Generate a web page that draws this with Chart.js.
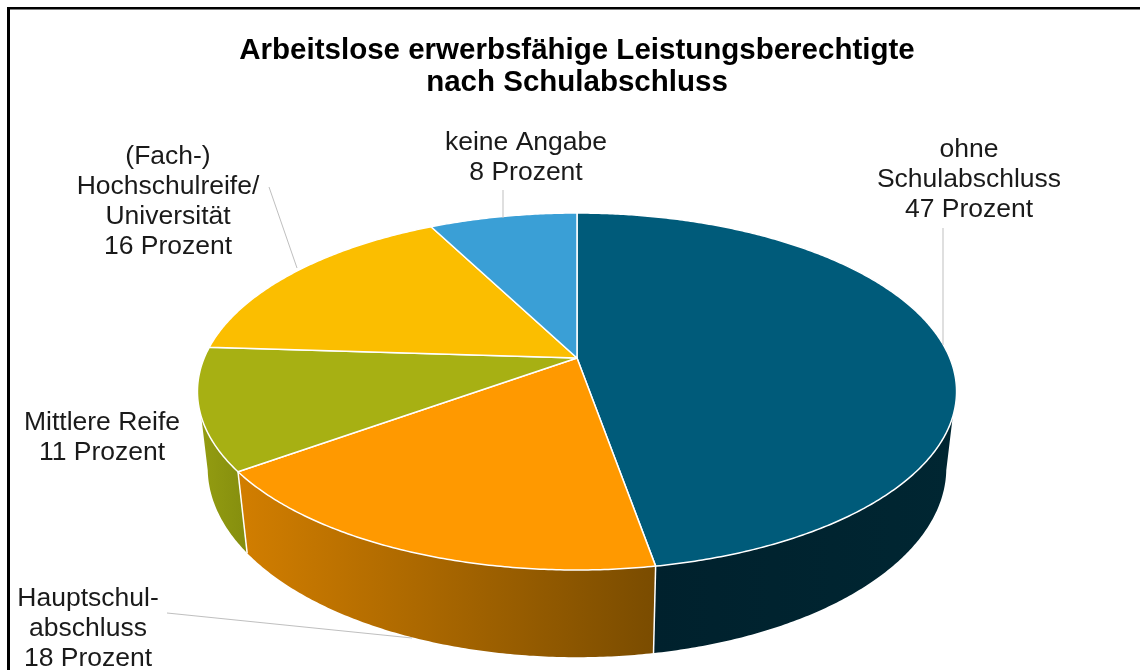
<!DOCTYPE html>
<html lang="de">
<head>
<meta charset="utf-8">
<style>html,body{margin:0;padding:0;background:#fff}canvas{display:block}</style>
<script src="https://cdn.jsdelivr.net/npm/chart.js@4"></script>
</head>
<body>
<canvas id="c" width="1140" height="670"></canvas>
<script>
const categories = ["ohne Schulabschluss", "Hauptschulabschluss", "Mittlere Reife", "(Fach-) Hochschulreife/ Universität", "keine Angabe"];
const values = [47.25, 17.75, 11, 16.45, 7.55];
const labelLines = [
  ["ohne", "Schulabschluss", "47 Prozent"],
  ["Hauptschul-", "abschluss", "18 Prozent"],
  ["Mittlere Reife", "11 Prozent"],
  ["(Fach-)", "Hochschulreife/", "Universität", "16 Prozent"],
  ["keine Angabe", "8 Prozent"]
];
const titleLines = ["Arbeitslose erwerbsfähige Leistungsberechtigte", "nach Schulabschluss"];
const topColors = ["#005B7A", "#FF9900", "#A7B013", "#FBBE00", "#3A9FD6"];
const sideStops = [["#00212D", "#002632"], ["#D27E00", "#7A4C00"], ["#939C11", "#858E0E"], ["#C09200", "#C09200"], ["#2A78A2", "#2A78A2"]];
const labelPos = [[969, 150], [88, 599], [102, 423], [168, 157], [526, 143]];
const leaders = [[[943, 228], [943, 345]], [[167, 613], [412, 638]], null, [[269, 187], [297, 268]], [[503, 190], [503, 218]]];

const P = {cx: 577, cy: 358, a: 372.8, b: 172.2, k: 0.1877, sx: 0.973, sy: 1.06, ty: 53, from: 108.7, to: 251.3, lowFrom: 101.5, lowTo: 258.5};
function rim(deg) {
  const t = deg * Math.PI / 180, u = Math.sin(t), v = -Math.cos(t), w = 1 - P.k * v;
  return [P.cx + P.a * u / w, P.cy + P.b * v / w];
}
function low(p) { return [P.cx + P.sx * (p[0] - P.cx), P.sy * p[1] + P.ty]; }
function sweep(s, e) {
  const out = [];
  if (e <= s) return out;
  for (let d = s; d < e; d += 0.5) out.push(rim(d));
  out.push(rim(e));
  return out;
}

const pie3d = {
  id: 'pie3d',
  beforeDraw(chart) {
    const c = chart.ctx;
    c.save();
    c.fillStyle = '#fff'; c.fillRect(0, 0, 1140, 670);
    c.fillStyle = '#000';
    c.fillRect(7, 7, 3, 663);
    c.fillRect(7, 7, 1133, 2.5);
    c.restore();
  },
  beforeDatasetDraw() { return false; },
  afterDatasetsDraw(chart) {
    const c = chart.ctx, arcs = chart.getDatasetMeta(0).data;
    const ang = arcs.map(a => [(a.startAngle + Math.PI / 2) * 180 / Math.PI, (a.endAngle + Math.PI / 2) * 180 / Math.PI]);
    c.save();
    c.lineJoin = 'round';
    // side walls
    ang.forEach(([s, e], i) => {
      const up = sweep(Math.max(s, P.from), Math.min(e, P.to));
      const dn = sweep(Math.max(s, P.lowFrom), Math.min(e, P.lowTo)).map(low).reverse();
      if (!up.length && !dn.length) return;
      const pts = up.concat(dn), xs = pts.map(p => p[0]);
      const g = c.createLinearGradient(Math.min(...xs), 0, Math.max(...xs), 0);
      g.addColorStop(0, sideStops[i][0]); g.addColorStop(1, sideStops[i][1]);
      c.beginPath();
      pts.forEach((p, j) => j ? c.lineTo(p[0], p[1]) : c.moveTo(p[0], p[1]));
      c.closePath();
      c.fillStyle = g; c.fill();
    });
    // separators between walls
    c.strokeStyle = '#fff'; c.lineWidth = 1.5;
    ang.forEach(([s]) => {
      if (s > P.from && s < P.to) {
        const p = rim(s), q = low(p);
        c.beginPath(); c.moveTo(p[0], p[1]); c.lineTo(q[0], q[1]); c.stroke();
      }
    });
    // top faces
    ang.forEach(([s, e], i) => {
      c.beginPath();
      c.moveTo(P.cx, P.cy);
      sweep(s, e).forEach(p => c.lineTo(p[0], p[1]));
      c.closePath();
      c.fillStyle = topColors[i]; c.fill();
      c.strokeStyle = '#fff'; c.lineWidth = 1.5; c.stroke();
    });
    // leader lines
    c.strokeStyle = '#BFBFBF'; c.lineWidth = 1;
    leaders.forEach(l => {
      if (!l) return;
      c.beginPath(); c.moveTo(l[0][0], l[0][1]); c.lineTo(l[1][0], l[1][1]); c.stroke();
    });
    // data labels
    c.fillStyle = '#1a1a1a';
    c.font = '26.5px "Liberation Sans", Arial, sans-serif';
    c.textAlign = 'center'; c.textBaseline = 'middle';
    labelLines.forEach((lines, i) => lines.forEach((t, j) => c.fillText(t, labelPos[i][0], labelPos[i][1] + j * 30)));
    c.restore();
  }
};

new Chart(document.getElementById('c'), {
  type: 'pie',
  data: {labels: categories, datasets: [{data: values, backgroundColor: topColors, borderColor: '#fff'}]},
  options: {
    responsive: false,
    animation: false,
    layout: {padding: {left: 14, top: 35}},
    plugins: {
      legend: {display: false},
      tooltip: {enabled: false},
      title: {
        display: true, text: titleLines, color: '#000',
        font: {family: '"Liberation Sans", Arial, sans-serif', size: 29.5, weight: 'bold', lineHeight: 1.09},
        padding: {top: 0, bottom: 10}
      }
    }
  },
  plugins: [pie3d]
});
</script>
</body>
</html>
